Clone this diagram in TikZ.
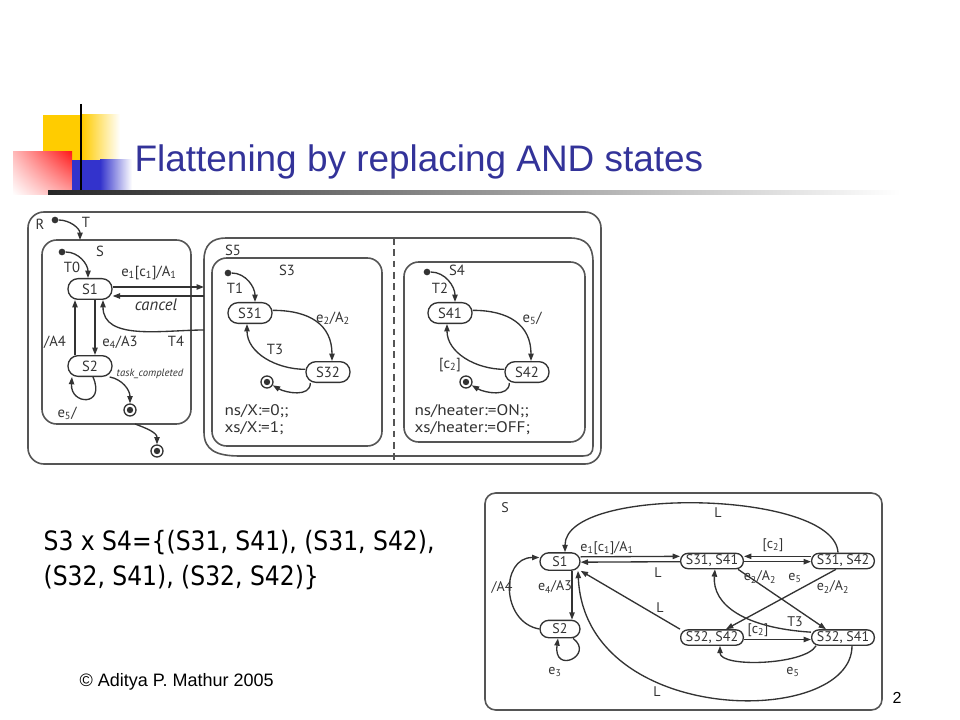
\documentclass[tikz,border=0pt]{standalone}
\usepackage{fontspec}
\setmainfont{Liberation Sans}
\newfontfamily\chartfont{PT Sans}
\newfontfamily\notefont[FakeStretch=1.12]{PT Sans}
\newfontfamily\prodfont[FakeStretch=0.88]{DejaVu Sans}
\usetikzlibrary{arrows.meta, calc, shadings}
\definecolor{titleblue}{HTML}{333399}
\definecolor{logoyellow}{HTML}{FFCC00}
\definecolor{logoblue}{HTML}{3333CC}
\definecolor{logored}{HTML}{FF1A1A}
\definecolor{edgegray}{HTML}{333333}
\definecolor{framegray}{HTML}{555555}
\newcommand{\ix}[1]{\textsubscript{#1}}

\begin{document}
\begin{tikzpicture}[x=0.75pt, y=-0.75pt,
    every node/.style={font=\chartfont\fontsize{11}{13}\selectfont, text=edgegray, inner sep=1pt},
    box/.style={draw=framegray, line width=1.2pt},
    small/.style={font=\chartfont\fontsize{10.5}{12}\selectfont},
    note/.style={anchor=west, font=\notefont\fontsize{11.5}{13}\selectfont},
    state/.style={draw=edgegray, line width=1pt, rounded corners=7.5pt, minimum width=33pt, minimum height=15.5pt, inner sep=0pt},
    flat/.style={state, small, minimum width=30pt, minimum height=13pt, rounded corners=6.5pt},
    pair/.style={state, font=\chartfont\fontsize{10.5}{12}\selectfont, minimum width=47pt, minimum height=11.5pt, inner xsep=1pt, rounded corners=5.5pt},
    final/.style={circle, draw=edgegray, line width=1pt, minimum size=9pt, inner sep=0pt,
      path picture={\fill[edgegray] (path picture bounding box.center) circle (2.4pt);}},
    dot/.style={circle, fill=edgegray, inner sep=0pt, minimum size=5pt},
    trans/.style={draw=edgegray, line width=1pt, -{Triangle[length=5.5pt, width=4pt]}}
  ]
  \useasboundingbox (0,0) rectangle (960,720);

  % title bar
  \fill[logoyellow] (43,115) rectangle (82,160);
  \shade[left color=logoyellow, right color=white] (82,115) rectangle (120,160);
  \shade[upper left=logored!30, upper right=logored, lower left=white, lower right=logored!40] (13,152) rectangle (72,195);
  \fill[logoblue] (72,160) rectangle (100,192);
  \shade[left color=logoblue, right color=white] (100,160) rectangle (132,192);
  \draw[line width=2.2pt] (81,104) -- (81,193);
  \shade[left color=black!85, right color=white] (48,191) rectangle (900,195);
  \node[anchor=base west, font=\normalfont\fontsize{27.7}{32}\selectfont, text=titleblue] (title) at (133,172) {Flattening by replacing AND states};

  % ---- hierarchical chart ----
  \draw[box, rounded corners=12pt] (28,212) rectangle (601,464);
  \draw[box, rounded corners=11pt] (42,240) rectangle (191,424);
  \draw[box] (204,432) -- (204,260) .. controls (204,245) and (212,238) .. (226,238)
     -- (570,238) .. controls (586,238) and (593,246) .. (593,262)
     -- (593,446) .. controls (593,453) and (590,456) .. (583,456)
     -- (240,456) .. controls (216,456) and (204,450) .. (204,432) -- cycle;
  \draw[box, line width=1pt, dash pattern=on 5pt off 3.5pt] (394,238) -- (394,464);
  \draw[box, rounded corners=11pt] (212,258) rectangle (382,446);
  \draw[box, rounded corners=11pt] (404,262) rectangle (585,442);

  \node[state] (s1) at (90,289) {S1};
  \node[state] (s2) at (90,366) {S2};
  \node[state] (s31) at (250,313) {S31};
  \node[state] (s32) at (328,372) {S32};
  \node[state] (s41) at (450,313) {S41};
  \node[state] (s42) at (527,372) {S42};
  \node[final] (f1) at (130,410) {};
  \node[final] (f2) at (157,451) {};
  \node[final] (f3) at (267,382) {};
  \node[final] (f4) at (466,382) {};
  \node[dot] (iR) at (55,220) {};
  \node[dot] (iS) at (62,252) {};
  \node[dot] (iA) at (228,273) {};
  \node[dot] (iB) at (427,272) {};
  \coordinate (sIn) at (80,240);
  \coordinate (sOut) at (135,424);
  \coordinate (w1) at (204,287);
  \coordinate (w2) at (204,296);
  \coordinate (w3) at (204,330);

  \draw[trans] (iR) to[out=0, in=90] (sIn);
  \draw[trans] (iS) to[out=0, in=90] ($(s1.north)+(-2,0)$);
  \draw[trans] (s1.east |- w1) -- (w1);
  \draw[trans] (w2) -- (s1.east |- w2);
  \draw[trans] (w3) to[out=180, in=-90] ($(s1.south)+(13,0)$);
  \draw[trans] ($(s1.south)+(5,0)$) -- ($(s2.north)+(5,0)$);
  \draw[trans] ($(s2.north)+(-15,0)$) -- ($(s1.south)+(-15,0)$);
  \draw[trans] ($(s2.south)+(3,0)$) .. controls (106,407) and (70,405) .. ($(s2.south)+(-18,0)$);
  \draw[trans] ($(s2.south east)+(-3,0)$) to[out=-10, in=90] (f1);
  \draw[trans] (sOut) to[out=-20, in=90] (f2);
  \draw[trans] (iA) to[out=0, in=90] ($(s31.north)+(5,0)$);
  \draw[trans] ([yshift=2pt]s31.east) to[out=0, in=90, looseness=1.2] ($(s32.north)+(4,0)$);
  \draw[trans] ([yshift=2pt]s32.west) to[out=180, in=-90] ($(s31.south)+(-3,0)$);
  \draw[trans] ($(s32.south west)+(5,0)$) to[out=-90, in=-30] (f3);
  \draw[trans] (iB) to[out=0, in=90] ($(s41.north)+(5,0)$);
  \draw[trans] ([yshift=2pt]s41.east) to[out=0, in=90, looseness=1.2] ($(s42.north)+(4,0)$);
  \draw[trans] ([yshift=2pt]s42.west) to[out=180, in=-90] ($(s41.south)+(-3,0)$);
  \draw[trans] ($(s42.south west)+(5,0)$) to[out=-90, in=-30] (f4);

  \node (lR) at (40,224) {R};
  \node (lT) at (86,222) {T};
  \node (lS) at (100,251) {S};
  \node (lT0) at (72,267) {T0};
  \node (le1) at (149,273) {e\ix{1}[c\ix{1}]/A\ix{1}};
  \node[font=\chartfont\itshape\fontsize{12.5}{14}\selectfont] (lcancel) at (156,305) {cancel};
  \node (lT4) at (176,341) {T4};
  \node (lA4) at (55,342) {/A4};
  \node (le4) at (120,342) {e\ix{4}/A3};
  \node[font=\chartfont\itshape\fontsize{8}{9}\selectfont] (ltask) at (150,374) {task\_completed};
  \node (le5) at (67,413) {e\ix{5}/};
  \node (lS5) at (233,250) {S5};
  \node (lS3) at (287,270) {S3};
  \node (lT1) at (235,288) {T1};
  \node (le2) at (333,318) {e\ix{2}/A\ix{2}};
  \node (lT3) at (275,349) {T3};
  \node (lS4) at (457,270) {S4};
  \node (lT2) at (440,288) {T2};
  \node (le5b) at (532,318) {e\ix{5}/};
  \node (lc2) at (450,365) {[c\ix{2}]};
  \node[note] (ns3) at (223,411) {ns/X:=0;;};
  \node[note] (xs3) at (223,428) {xs/X:=1;};
  \node[note] (ns4) at (413,411) {ns/heater:=ON;;};
  \node[note] (xs4) at (413,428) {xs/heater:=OFF;};

  % ---- flattened chart ----
  \draw[box, rounded corners=8pt] (485,493) rectangle (882,710);
  \node[flat] (b1) at (560,561.5) {S1};
  \node[flat] (b2) at (560,629) {S2};
  \node[pair] (p11) at (712,561) {S31, S41};
  \node[pair] (p12) at (843,561) {S31, S42};
  \node[pair] (p22) at (712,637.5) {S32, S42};
  \node[pair] (p21) at (843,637.5) {S32, S41};

  \draw[trans] ($(p12.north)+(-5,0)$) .. controls (835,490) and (565,485) .. ($(b1.north)+(5,0)$);
  \draw[trans] ([yshift=3.5pt]b1.east) -- ([yshift=3.5pt]p11.west);
  \draw[trans] ([yshift=-0.5pt]p11.west) -- ([yshift=-0.5pt]b1.east);
  \draw[trans] (p22.north west) -- (b1.south east);
  \draw[trans] ($(p21.south)+(9,0)$) .. controls (852,728) and (585,728) .. ($(b1.south)+(18,0)$);
  \draw[trans] ($(b1.south)+(12,0)$) -- ($(b2.north)+(12,0)$);
  \draw[trans] (b2.west) to[out=170, in=180, looseness=1.4] ([yshift=3pt]b1.west);
  \draw[trans] ($(b2.south)+(13,0)$) .. controls (595,655) and (553,675) .. ($(b2.south)+(-2,0)$);
  \draw[trans] ([yshift=3.5pt]p12.west) -- ([yshift=3.5pt]p11.east);
  \draw[trans] ([yshift=-0.5pt]p11.east) -- ([yshift=-0.5pt]p12.west);
  \draw[trans] ($(p11.south east)+(-6,0)$) -- ($(p21.north west)+(15,0)$);
  \draw[trans] ($(p12.south west)+(25,0)$) -- ($(p22.north east)+(-18,0)$);
  \draw[trans] ([yshift=4pt]p21.west) .. controls (745,628) and (712,605) .. ($(p11.south)+(3,0)$);
  \draw[trans] ([yshift=-1.5pt]p22.east) -- ([yshift=-1.5pt]p21.west);
  \draw[trans] ($(p21.south west)+(5,0)$) .. controls (805,665) and (720,668) .. ($(p22.south)+(8,0)$);

  \node[small] (lS6) at (505,508) {S};
  \node[small] (lL1) at (718,513) {L};
  \node[small] (lE1) at (607,548) {e\ix{1}[c\ix{1}]/A\ix{1}};
  \node[small] (lL2) at (658,573) {L};
  \node[small] (lL3) at (660,608) {L};
  \node[small] (lL4) at (657,692) {L};
  \node[small] (lE4) at (555,587) {e\ix{4}/A3};
  \node[small] (lA4b) at (502,587) {/A4};
  \node[small] (lE3) at (555,672) {e\ix{3}};
  \node[small] (lC2a) at (773,545) {[c\ix{2}]};
  \node[small] (lE5a) at (795,578) {e\ix{5}};
  \node[small] (lE2a) at (760,577) {e\ix{2}/A\ix{2}};
  \node[small] (lE2b) at (833,587) {e\ix{2}/A\ix{2}};
  \node[small] (lT3b) at (795,622) {T3};
  \node[small] (lC2b) at (758,630) {[c\ix{2}]};
  \node[small] (lE5b) at (793,672) {e\ix{5}};

  % slide text
  \node[anchor=base west, font=\prodfont\fontsize{20}{24}\selectfont, text=black] (prodA) at (42,550) {S3 x S4=\{(S31, S41), (S31, S42),};
  \node[anchor=base west, font=\prodfont\fontsize{20}{24}\selectfont, text=black] (prodB) at (42,585) {(S32, S41), (S32, S42)\}};
  \node[anchor=base west, font=\normalfont\fontsize{13.5}{15}\selectfont, text=black] (credit) at (78,686) {© Aditya P. Mathur 2005};
  \node[anchor=base, font=\normalfont\fontsize{12}{14}\selectfont, text=black] (pageno) at (897,703) {2};
\end{tikzpicture}
\end{document}
